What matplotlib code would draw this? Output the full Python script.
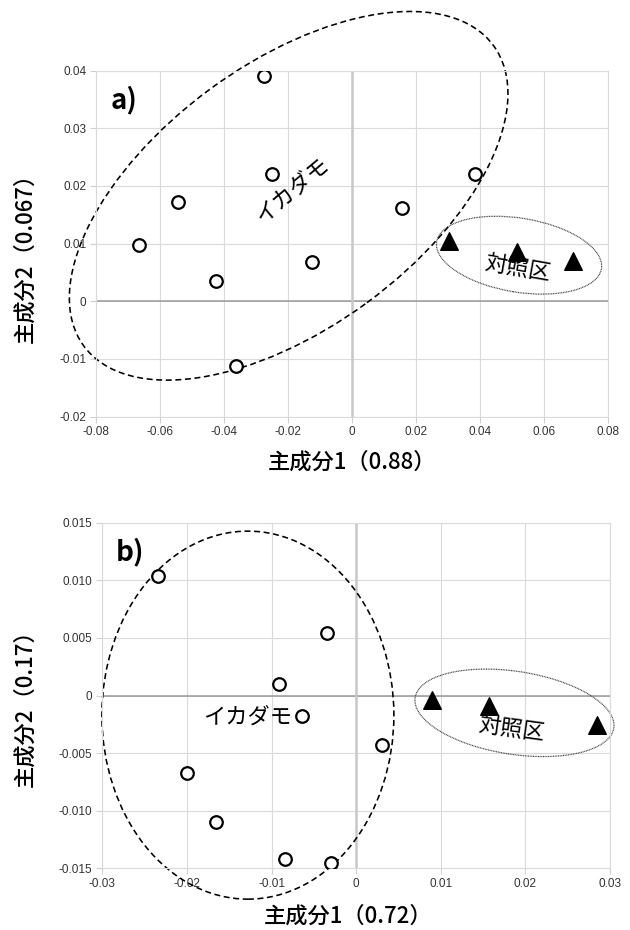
import matplotlib
matplotlib.use('Agg')
import matplotlib.pyplot as plt
from matplotlib.patches import Ellipse
from matplotlib.transforms import ScaledTranslation

plt.rcParams['font.family'] = ['Liberation Sans', 'Noto Sans CJK JP', 'DejaVu Sans']
plt.rcParams['lines.scale_dashes'] = False
JP = ['Noto Sans CJK JP', 'DejaVu Sans']

# Panel a) scores
a_ika_x = [-0.0274, -0.0249, -0.0544, -0.0667, -0.0425, -0.0124, -0.0363, 0.0155, 0.0384]
a_ika_y = [0.0391, 0.0220, 0.0172, 0.0098, 0.0035, 0.0069, -0.0112, 0.0162, 0.0220]
a_ctl_x = [0.0304, 0.0515, 0.0692]
a_ctl_y = [0.0104, 0.0085, 0.0070]
a_xticks = [-0.08, -0.06, -0.04, -0.02, 0, 0.02, 0.04, 0.06, 0.08]
a_xlabels = ['-0.08', '-0.06', '-0.04', '-0.02', '0', '0.02', '0.04', '0.06', '0.08']
a_yticks = [-0.02, -0.01, 0, 0.01, 0.02, 0.03, 0.04]
a_ylabels = ['-0.02', '-0.01', '0', '0.01', '0.02', '0.03', '0.04']

# Panel b) scores
b_ika_x = [-0.0234, -0.0034, -0.0091, -0.0064, -0.0200, -0.0166, -0.0084, -0.0030, 0.0031]
b_ika_y = [0.0104, 0.0054, 0.0010, -0.0018, -0.0067, -0.0110, -0.0142, -0.0145, -0.0043]
b_ctl_x = [0.0089, 0.0157, 0.0284]
b_ctl_y = [-0.0004, -0.0009, -0.0026]
b_xticks = [-0.03, -0.02, -0.01, 0, 0.01, 0.02, 0.03]
b_xlabels = ['-0.03', '-0.02', '-0.01', '0', '0.01', '0.02', '0.03']
b_yticks = [-0.015, -0.010, -0.005, 0, 0.005, 0.010, 0.015]
b_ylabels = ['-0.015', '-0.010', '-0.005', '0', '0.005', '0.010', '0.015']

fig = plt.figure(figsize=(6.3, 9.3), dpi=100)
ax_a = fig.add_axes([0.1524, 0.552, 0.8127, 0.372])
ax_b = fig.add_axes([0.1624, 0.0663, 0.806, 0.3716])


def group_ellipse(ax, center, w_px, h_px, angle, **kw):
    # size in pixels (display), centre in data coords
    tr = fig.dpi_scale_trans + ScaledTranslation(center[0], center[1], ax.transData)
    e = Ellipse((0, 0), w_px / 100, h_px / 100, angle=angle, transform=tr,
                fill=False, clip_on=False, **kw)
    ax.add_patch(e)


def setup(ax, xticks, xlabels, yticks, ylabels):
    ax.set_xlim(xticks[0], xticks[-1])
    ax.set_ylim(yticks[0], yticks[-1])
    ax.set_xticks(xticks, xlabels)
    ax.set_yticks(yticks, ylabels)
    ax.grid(True, color='#dadada', lw=0.8)
    ax.set_axisbelow(True)
    for s in ax.spines.values():
        s.set_color('#dadada')
        s.set_linewidth(0.8)
    ax.axhline(0, color='#9a9a9a', lw=1.1, zorder=1)
    ax.axvline(0, color='#c8c8c8', lw=1.8, zorder=1)
    ax.tick_params(length=4, color='#cfcfcf', labelsize=8.5, labelcolor='#333333',
                   pad=3)


def plot_points(ax, ix, iy, cx, cy):
    ax.scatter(ix, iy, s=82, facecolor='white', edgecolor='black', lw=1.6, zorder=3)
    ax.scatter(cx, cy, s=160, marker='^', color='black', zorder=3)


# ---- a)
setup(ax_a, a_xticks, a_xlabels, a_yticks, a_ylabels)
plot_points(ax_a, a_ika_x, a_ika_y, a_ctl_x, a_ctl_y)
group_ellipse(ax_a, (-0.0198, 0.0183), 508, 265, 36.25, color='black', lw=1.15,
              linestyle=(0, (4.3, 2.6)), zorder=2)
group_ellipse(ax_a, (0.0522, 0.0080), 167, 74, -9.3, color='#444444', lw=0.9,
              linestyle=(0, (0.7, 0.5)), zorder=2)
ax_a.text(-0.0711, 0.0349, 'a)', fontsize=20, fontweight='bold', ha='center',
          va='center', family=JP)
ax_a.text(-0.0188, 0.0193, 'イカダモ', fontsize=16, rotation=40, ha='center',
          va='center', family=JP)
ax_a.text(0.0517, 0.0057, '対照区', fontsize=16, rotation=-10, ha='center',
          va='center', family=JP)
fig.text(352 / 630, 1 - 462 / 930, '主成分1（0.88）', fontsize=16, ha='center',
         va='center', family=JP, fontweight='medium')
fig.text(25 / 630, 1 - 252 / 930, '主成分2（0.067）', fontsize=16, ha='center',
         va='center', rotation=90, family=JP, fontweight='medium')

# ---- b)
setup(ax_b, b_xticks, b_xlabels, b_yticks, b_ylabels)
plot_points(ax_b, b_ika_x, b_ika_y, b_ctl_x, b_ctl_y)
group_ellipse(ax_b, (-0.0128, -0.0017), 292, 368, 0, color='black', lw=1.15,
              linestyle=(0, (4.3, 2.6)), zorder=2)
group_ellipse(ax_b, (0.0187, -0.0015), 201, 83, -8.7, color='#444444', lw=0.9,
              linestyle=(0, (0.7, 0.5)), zorder=2)
ax_b.text(-0.0267, 0.0125, 'b)', fontsize=20, fontweight='bold', ha='center',
          va='center', family=JP)
ax_b.text(-0.0128, -0.0019, 'イカダモ', fontsize=16, ha='center',
          va='center', family=JP)
ax_b.text(0.0184, -0.0029, '対照区', fontsize=16, rotation=-8, ha='center',
          va='center', family=JP)
fig.text(348 / 630, 1 - 916 / 930, '主成分1（0.72）', fontsize=16, ha='center',
         va='center', family=JP, fontweight='medium')
fig.text(25 / 630, 1 - 703 / 930, '主成分2（0.17）', fontsize=16, ha='center',
         va='center', rotation=90, family=JP, fontweight='medium')

fig.savefig('out.png', dpi=100)
